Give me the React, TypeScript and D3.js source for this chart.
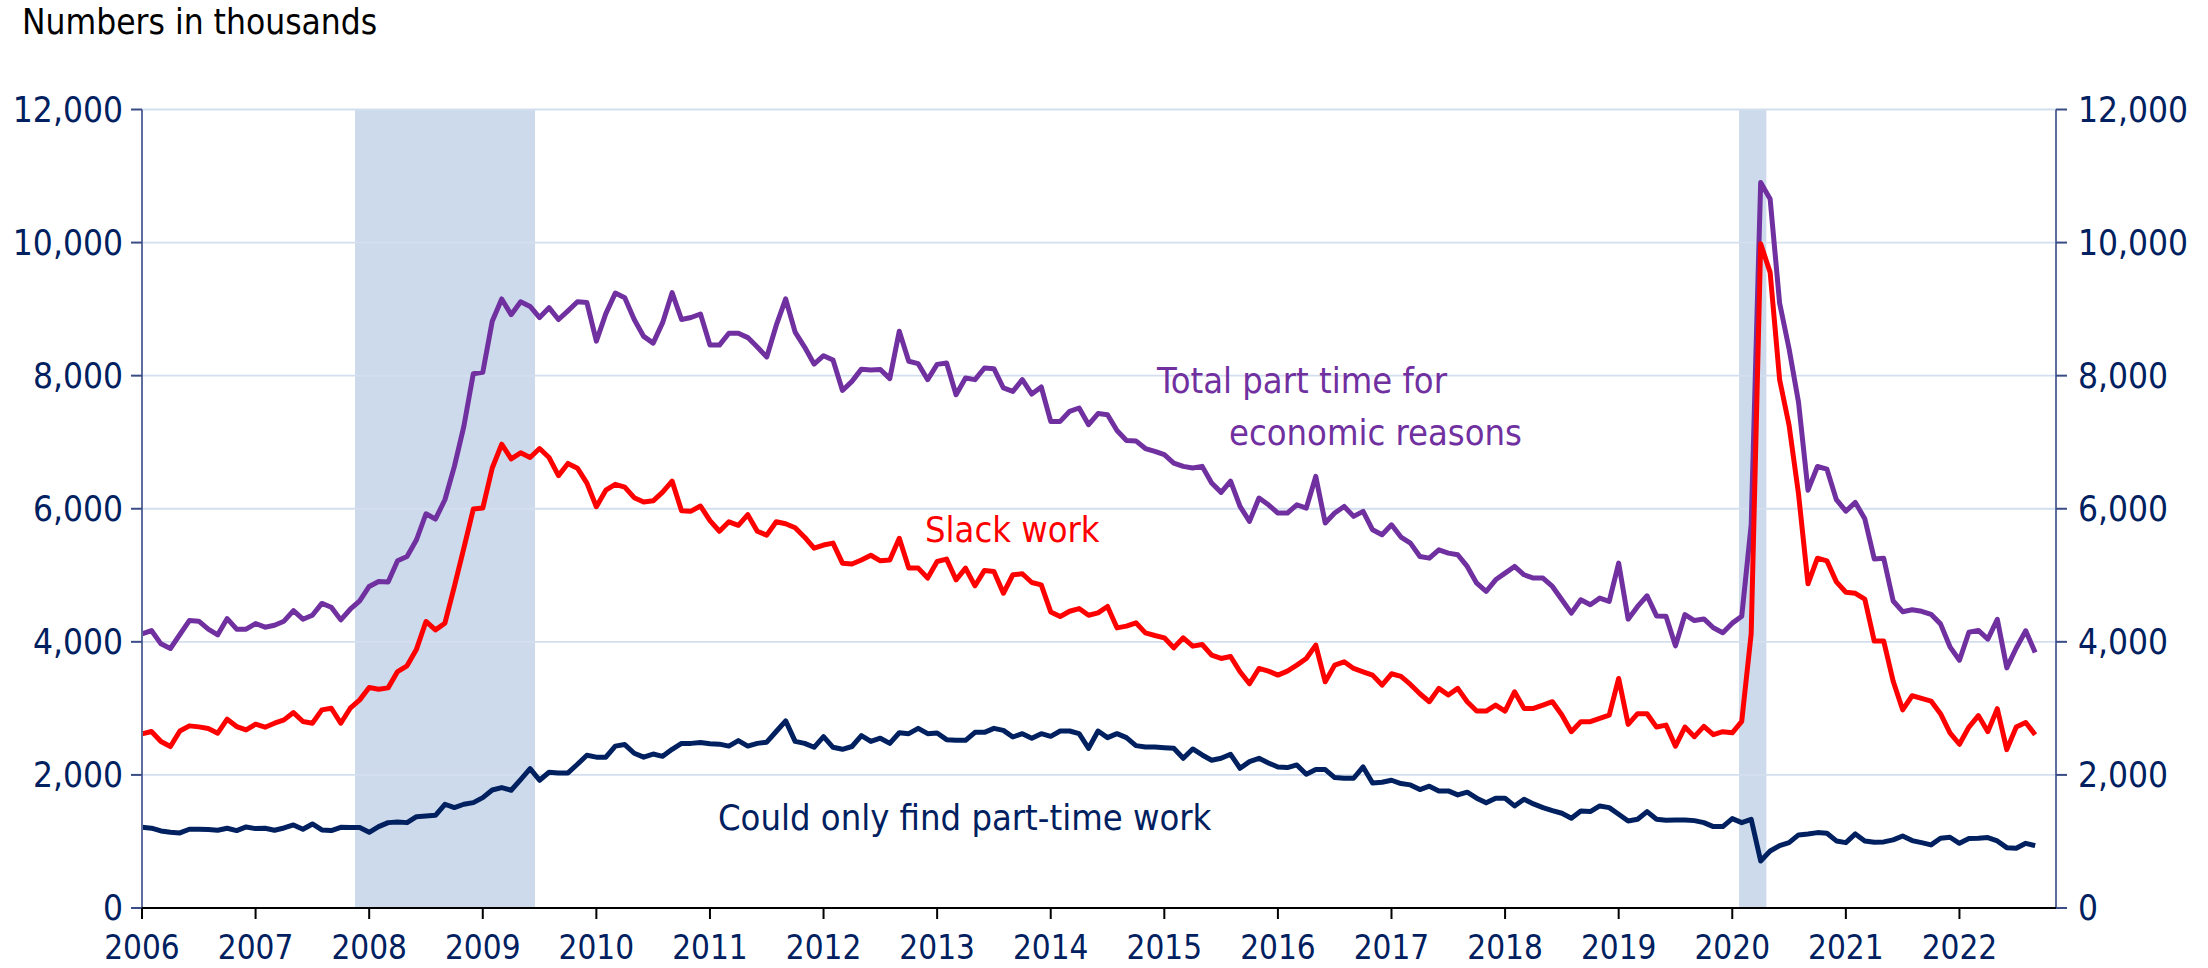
import React from "react";
import * as d3 from "d3";

// monthly values, Jan 2006 - Sep 2022, thousands
const totalPartTime = [
  4120, 4170, 3970, 3900, 4110, 4320, 4310, 4190, 4105, 4350, 4190, 4190,
  4275, 4220, 4250, 4310, 4470, 4340, 4400, 4577, 4520, 4330, 4490, 4617,
  4832, 4907, 4900, 5218, 5283, 5534, 5925, 5845, 6135, 6637, 7238, 8030,
  8050, 8817, 9153, 8916, 9111, 9040, 8874, 9022, 8844, 8975, 9111, 9099,
  8519, 8933, 9241, 9170, 8844, 8590, 8489, 8797, 9247, 8844, 8874, 8927,
  8459, 8459, 8637, 8637, 8572, 8430, 8281, 8755, 9153, 8655, 8430, 8175,
  8300, 8234, 7778, 7914, 8098, 8086, 8092, 7956, 8667, 8216, 8180, 7940,
  8170, 8190, 7714, 7965, 7940, 8115, 8105, 7815, 7764, 7940, 7724, 7830,
  7313, 7313, 7464, 7514, 7263, 7430, 7414, 7175, 7025, 7020, 6905, 6862,
  6812, 6687, 6637, 6612, 6637, 6386, 6246, 6416, 6035, 5810, 6161, 6060,
  5935, 5935, 6060, 6010, 6486, 5785, 5935, 6035, 5885, 5960, 5684, 5609,
  5759, 5574, 5484, 5283, 5258, 5383, 5333, 5308, 5133, 4882, 4757, 4932,
  5033, 5133, 5008, 4958, 4958, 4832, 4632, 4431, 4632, 4557, 4657, 4607,
  5183, 4341, 4532, 4692, 4390, 4384, 3940, 4410, 4320, 4344, 4212, 4137,
  4281, 4384, 5762, 10902, 10655, 9093, 8404, 7600, 6279, 6635, 6595, 6136,
  5963, 6095, 5849, 5246, 5257, 4614, 4453, 4482, 4459, 4413, 4270, 3925,
  3724, 4143, 4172, 4040, 4338, 3609, 3908, 4166, 3839,
];

const slackWork = [
  2617, 2652, 2501, 2426, 2660, 2737, 2722, 2697, 2627, 2837, 2727, 2677,
  2762, 2717, 2777, 2827, 2937, 2802, 2777, 2977, 3002, 2777, 3002, 3128,
  3313, 3288, 3308, 3553, 3639, 3890, 4306, 4180, 4280, 4832, 5409, 5995,
  6010, 6612, 6970, 6750, 6840, 6770, 6905, 6770, 6498, 6681, 6610, 6385,
  6030, 6279, 6367, 6326, 6166, 6101, 6119, 6249, 6415, 5970, 5964, 6041,
  5822, 5662, 5804, 5751, 5911, 5662, 5603, 5804, 5775, 5715, 5573, 5407,
  5455, 5484, 5182, 5170, 5230, 5301, 5218, 5230, 5556, 5108, 5108, 4958,
  5208, 5243, 4932, 5108, 4842, 5073, 5058, 4730, 5008, 5023, 4892, 4857,
  4450, 4380, 4460, 4500, 4400, 4436, 4531, 4210, 4236, 4286, 4135, 4095,
  4060, 3910, 4060, 3935, 3960, 3800, 3750, 3780, 3550, 3370, 3600, 3560,
  3500, 3560, 3650, 3750, 3950, 3400, 3650, 3700, 3600, 3550, 3500, 3350,
  3520, 3480, 3360, 3220, 3100, 3300, 3200, 3300, 3100, 2960, 2960, 3050,
  2960, 3250, 3000, 3000, 3050, 3100, 2900, 2650, 2800, 2800, 2850, 2900,
  3450, 2760, 2920, 2920, 2719, 2748, 2432, 2719, 2575, 2730, 2604, 2650,
  2633, 2805, 4126, 9983, 9552, 7944, 7255, 6222, 4872, 5257, 5217, 4901,
  4746, 4729, 4643, 4011, 4011, 3408, 2978, 3190, 3150, 3110, 2920, 2633,
  2461, 2719, 2892, 2650, 2995, 2380, 2719, 2788, 2604,
];

const couldOnlyFind = [
  1213, 1200, 1158, 1138, 1128, 1183, 1183, 1178, 1168, 1198, 1163, 1218,
  1193, 1198, 1168, 1203, 1248, 1183, 1263, 1173, 1163, 1213, 1208, 1208,
  1138, 1223, 1283, 1293, 1283, 1373, 1383, 1393, 1559, 1509, 1559, 1584,
  1659, 1774, 1810, 1770, 1930, 2095, 1920, 2040, 2030, 2030, 2160, 2296,
  2267, 2267, 2433, 2456, 2326, 2267, 2314, 2279, 2385, 2474, 2474, 2486,
  2468, 2462, 2433, 2515, 2433, 2474, 2492, 2652, 2812, 2504, 2474, 2415,
  2575, 2415, 2385, 2427, 2592, 2504, 2552, 2474, 2634, 2620, 2700, 2620,
  2630, 2530, 2520, 2520, 2640, 2640, 2700, 2670, 2570, 2620, 2550, 2620,
  2580, 2660, 2660, 2620, 2400, 2660, 2560, 2620, 2560, 2440, 2420, 2420,
  2410, 2400, 2250, 2390, 2300, 2220, 2250, 2310, 2100, 2200, 2250, 2180,
  2120, 2110, 2150, 2010, 2080, 2080, 1960, 1950, 1950, 2120, 1880, 1890,
  1920, 1870, 1850, 1780, 1830, 1760, 1760, 1700, 1740, 1650, 1580, 1650,
  1649, 1534, 1634, 1564, 1509, 1464, 1424, 1349, 1459, 1449, 1534, 1509,
  1409, 1308, 1333, 1449, 1333, 1318, 1323, 1323, 1313, 1283, 1223, 1223,
  1343, 1283, 1333, 707, 857, 937, 982, 1098, 1113, 1133, 1123, 1008,
  982, 1113, 1008, 988, 993, 1023, 1083, 1013, 982, 948, 1048, 1063,
  972, 1043, 1048, 1058, 1008, 907, 897, 972, 937,
];

const yearTicks = d3.range(2006, 2023);
const valueTicks = [0, 2000, 4000, 6000, 8000, 10000, 12000];
// shaded recessions, decimal years
const recessions = [
  [2007.875, 2009.46],
  [2020.06, 2020.3],
];

const font = "'DejaVu Sans Condensed', 'DejaVu Sans', sans-serif";
const navy = "#002060";

export default function App() {
  const width = 2208;
  const height = 968;

  const x = d3.scaleLinear().domain([2006, 2022.85]).range([142, 2056]);
  const y = d3.scaleLinear().domain([0, 12000]).range([908, 109.5]);

  const line = d3
    .line<number>()
    .x((d, i) => x(2006 + i / 12))
    .y((d) => y(d));

  const series = [
    { values: totalPartTime, color: "#7030a0" },
    { values: slackWork, color: "#ff0000" },
    { values: couldOnlyFind, color: navy },
  ];

  const [x0, x1] = x.range();
  const fmt = d3.format(",");

  return (
    <svg
      width={width}
      height={height}
      style={{ position: "absolute", left: 0, top: 0, background: "#fff" }}
      fontFamily={font}
      fontStretch="condensed"
    >
      {recessions.map(([a, b], i) => (
        <rect key={i} x={x(a)} y={y(12000)} width={x(b) - x(a)} height={y(0) - y(12000)} fill="#cddaeb" />
      ))}

      {valueTicks.filter((v) => v > 0).map((v) => (
        <line key={v} x1={x0} x2={x1} y1={y(v)} y2={y(v)} stroke="#d3dfee" strokeWidth={1.8} />
      ))}

      {series.map((s, i) => (
        <path key={i} d={line(s.values) || ""} fill="none" stroke={s.color} strokeWidth={5} strokeLinejoin="round" />
      ))}

      {/* left axis */}
      <line x1={x0} x2={x0} y1={y(12000)} y2={y(0)} stroke="#5f6d9c" strokeWidth={2} />
      {valueTicks.map((v) => (
        <g key={v}>
          <line x1={x0 - 11} x2={x0} y1={y(v)} y2={y(v)} stroke="#3a4c86" strokeWidth={2} />
          <text x={123} y={y(v)} dy="0.35em" textAnchor="end" fontSize={35} fill={navy}>
            {fmt(v)}
          </text>
        </g>
      ))}

      {/* right axis */}
      <line x1={x1} x2={x1} y1={y(12000)} y2={y(0)} stroke="#5f6d9c" strokeWidth={2} />
      {valueTicks.map((v) => (
        <g key={v}>
          <line x1={x1} x2={x1 + 11} y1={y(v)} y2={y(v)} stroke="#3a4c86" strokeWidth={2} />
          <text x={2078} y={y(v)} dy="0.35em" textAnchor="start" fontSize={35} fill={navy}>
            {fmt(v)}
          </text>
        </g>
      ))}

      {/* bottom axis */}
      <line x1={x0} x2={x1} y1={y(0)} y2={y(0)} stroke="#000" strokeWidth={2} />
      {yearTicks.map((yr) => (
        <g key={yr}>
          <line x1={x(yr)} x2={x(yr)} y1={y(0)} y2={y(0) + 11} stroke="#000" strokeWidth={2} />
          <text x={x(yr)} y={959} textAnchor="middle" fontSize={33} fill={navy}>
            {yr}
          </text>
        </g>
      ))}

      <text x={22} y={34} fontSize={35} fill="#000">
        Numbers in thousands
      </text>
      <text x={1157} y={393} fontSize={36} fill="#7030a0">
        Total part time for
      </text>
      <text x={1229} y={445} fontSize={36} fill="#7030a0">
        economic reasons
      </text>
      <text x={925} y={542} fontSize={36} fill="#ff0000">
        Slack work
      </text>
      <text x={718} y={830} fontSize={36} fill={navy}>
        Could only find part-time work
      </text>
    </svg>
  );
}
